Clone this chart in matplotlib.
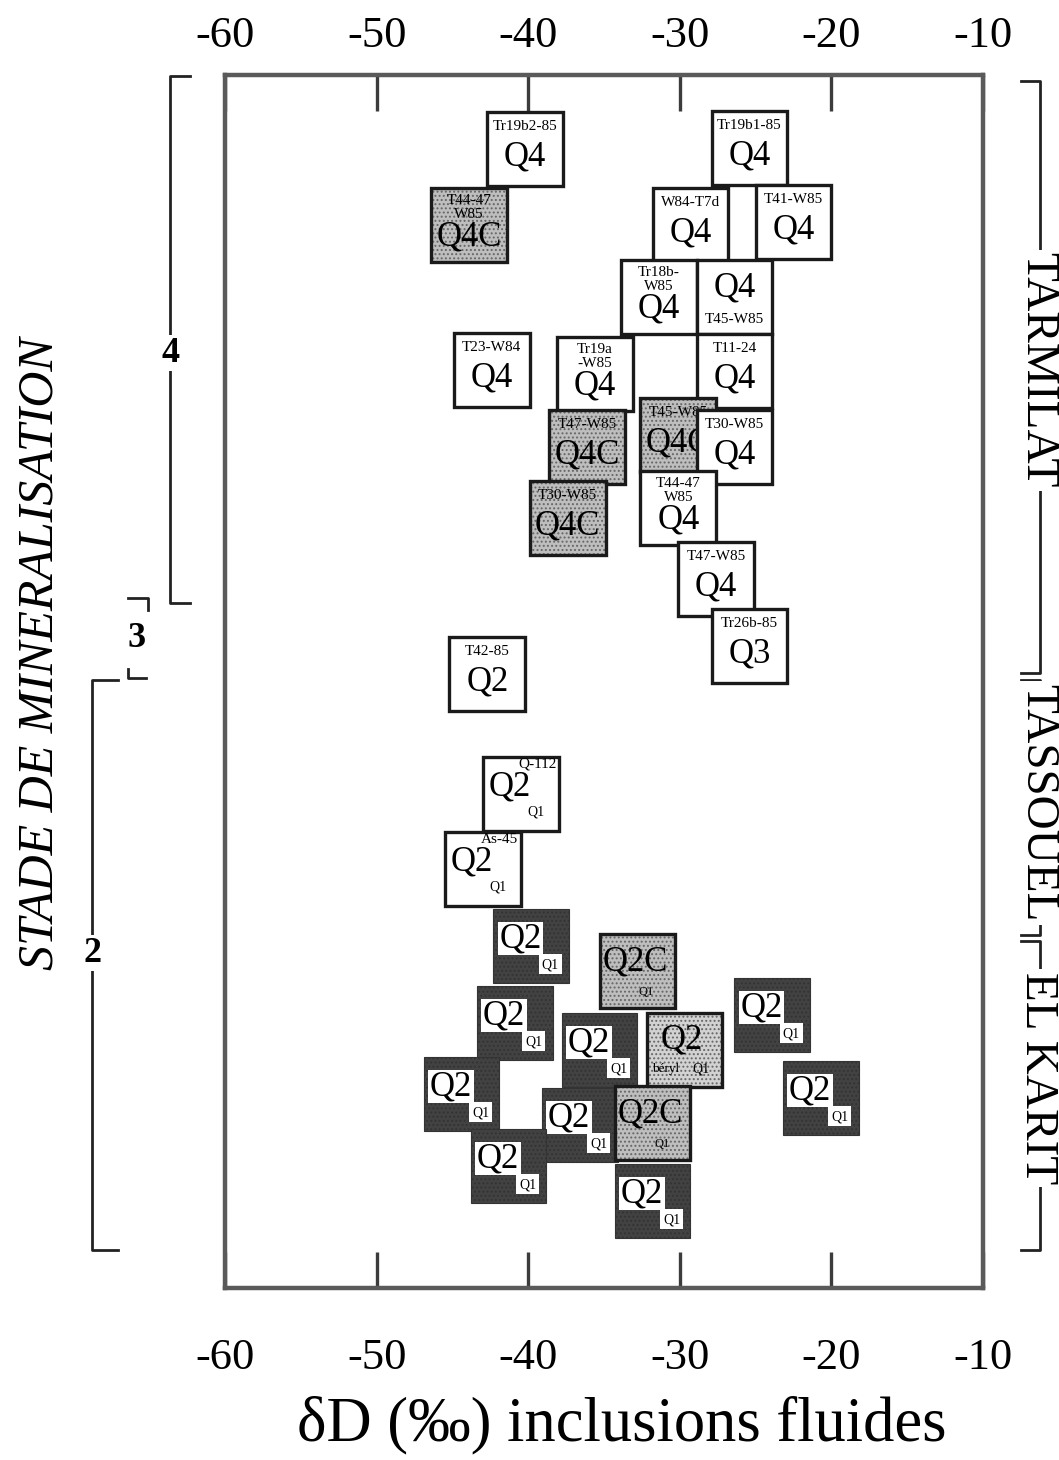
import matplotlib
matplotlib.use("Agg")
import matplotlib.pyplot as plt
from matplotlib.patches import Rectangle

plt.rcParams['font.family'] = ['Liberation Serif', 'DejaVu Serif']
plt.rcParams['axes.unicode_minus'] = False
plt.rcParams['hatch.linewidth'] = 0.9

# fluid inclusion analyses: sample, quartz generation, dD (per mil), position in the stage column
sample_id = ['Tr19b2-85', 'Tr19b1-85', 'T44-47\nW85', 'W84-T7d', 'T41-W85',
             'Tr18b-\nW85', 'T45-W85', 'T23-W84', 'Tr19a\n-W85', 'T11-24',
             'T47-W85', 'T45-W85', 'T30-W85', 'T30-W85', 'T44-47\nW85',
             'T47-W85', 'Tr26b-85', 'T42-85', 'Q-112', 'As-45',
             '', '', '', '', '', 'béryl', '', '', '', '', '', '']
quartz = ['Q4', 'Q4', 'Q4C', 'Q4', 'Q4',
          'Q4', 'Q4', 'Q4', 'Q4', 'Q4',
          'Q4C', 'Q4C', 'Q4', 'Q4C', 'Q4',
          'Q4', 'Q3', 'Q2', 'Q2', 'Q2',
          'Q2', 'Q2C', 'Q2', 'Q2', 'Q2', 'Q2', 'Q2', 'Q2', 'Q2', 'Q2C', 'Q2', 'Q2']
dD = [-40.2, -25.4, -43.9, -29.3, -22.5,
      -31.4, -26.4, -42.4, -35.6, -26.4,
      -36.1, -30.1, -26.4, -37.4, -30.1,
      -27.6, -25.4, -42.7, -40.5, -43.0,
      -39.8, -32.8, -23.9, -40.9, -35.3, -29.7, -44.4, -20.7, -36.6, -31.8, -41.3, -31.8]
level = [113.9, 114.0, 106.3, 106.35, 106.6,
         99.1, 99.1, 91.8, 91.4, 91.7,
         84.1, 85.3, 84.1, 77.0, 78.0,
         70.9, 64.2, 61.4, 49.4, 41.9,
         34.2, 31.7, 27.3, 26.5, 23.8, 23.8, 19.4, 19.0, 16.3, 16.5, 12.2, 8.7]
style = ['open', 'open', 'stip', 'open', 'open',
         'open', 'below', 'open', 'open', 'open',
         'stip', 'stip', 'open', 'stip', 'open',
         'open', 'open', 'open', 'q2', 'q2',
         'dark', 'q2c', 'dark', 'dark', 'dark', 'beryl', 'dark', 'dark', 'dark', 'q2c', 'dark', 'dark']

xticks = [-60, -50, -40, -30, -20, -10]

# mineralisation stages (left) and deposits (right): column range and label position
stages = ['4', '3', '2']
stage_range = [(121.2, 68.5), (69.0, 61.0), (60.8, 3.8)]
stage_label_at = [93.5, 65.0, 33.5]
deposits = ['TARMILAT', 'TASSOUEL', 'EL KARIT']
deposit_range = [(120.7, 61.5), (60.8, 35.3), (34.7, 3.8)]
deposit_label_at = [91.8, 48.5, 21.0]

BW, BH = 5.0, 7.4
DARK = '#424242'
STIP = '#bebebe'

fig = plt.figure(figsize=(10.59, 14.6), dpi=100)
ax = fig.add_axes([0.2125, 0.1178, 0.7158, 0.8308])
ax.set_xlim(-60, -10)
ax.set_ylim(0, 121.3)
ax.set_yticks([])
ax.set_xticks(xticks)
ax.set_xticklabels([str(t) for t in xticks])
ax.tick_params(axis='x', direction='in', length=26, width=2.4, color='#3c3c3c',
               labelsize=32, pad=36)
for s in ax.spines.values():
    s.set_linewidth(3.2)
    s.set_color('#5a5a5a')

top = ax.secondary_xaxis('top')
top.set_xticks(xticks)
top.set_xticklabels([str(t) for t in xticks])
top.tick_params(axis='x', direction='in', length=26, width=2.4, color='#3c3c3c',
                labelsize=32, pad=14)
top.spines['top'].set_visible(False)


def draw_box(i, x, y, kind, ident, main):
    z = 10 + 2 * i
    x0, y0 = x - BW / 2, y - BH / 2
    ytop = y + BH / 2

    def at(fx, fy):
        return x0 + fx * BW, ytop - fy * BH

    tz = dict(zorder=z + 1, ha='center', va='center')
    big = dict(fontsize=25, **tz)
    if kind == 'dark':
        ax.add_patch(Rectangle((x0, y0), BW, BH, facecolor=DARK, edgecolor='#333333',
                               hatch='....', lw=0.8, zorder=z))
        ax.add_patch(Rectangle(at(0.06, 0.62), 0.6 * BW, 0.44 * BH, facecolor='white',
                               lw=0, zorder=z + 0.5))
        ax.add_patch(Rectangle(at(0.6, 0.88), 0.3 * BW, 0.27 * BH, facecolor='white',
                               lw=0, zorder=z + 0.5))
        ax.text(*at(0.36, 0.41), main, **big)
        ax.text(*at(0.75, 0.75), 'Q1', fontsize=10, **tz)
        return

    if kind in ('stip', 'q2c', 'beryl'):
        fc = '#d2d2d2' if kind == 'beryl' else STIP
        ax.add_patch(Rectangle((x0, y0), BW, BH, facecolor=fc, edgecolor='#666666',
                               hatch='....', lw=0, zorder=z))
        ax.add_patch(Rectangle((x0, y0), BW, BH, fill=False, edgecolor='#1a1a1a',
                               lw=2.4, zorder=z + 0.5))
    else:
        ax.add_patch(Rectangle((x0, y0), BW, BH, facecolor='white', edgecolor='#1a1a1a',
                               lw=2.4, zorder=z))

    if kind in ('open', 'stip'):
        two = '\n' in ident
        ax.text(*at(0.5, 0.26 if two else 0.2), ident, fontsize=11, linespacing=1.05, **tz)
        ax.text(*at(0.5, 0.66 if two else 0.61), main, **big)
    elif kind == 'below':
        ax.text(*at(0.5, 0.38), main, **big)
        ax.text(*at(0.5, 0.8), ident, fontsize=11, **tz)
    elif kind == 'q2':
        ax.text(*at(0.36, 0.4), main, **big)
        ax.text(*at(0.72, 0.1), ident, fontsize=11, **tz)
        ax.text(*at(0.7, 0.74), 'Q1', fontsize=10, **tz)
    elif kind == 'q2c':
        ax.text(*at(0.47, 0.38), main, **big)
        ax.text(*at(0.62, 0.78), 'Q1', fontsize=9, **tz)
    elif kind == 'beryl':
        ax.text(*at(0.47, 0.36), main, **big)
        ax.text(*at(0.25, 0.76), ident, fontsize=9.5, **tz)
        ax.text(*at(0.72, 0.76), 'Q1', fontsize=10, **tz)


for i in range(len(dD)):
    draw_box(i, dD[i], level[i], style[i], sample_id[i], quartz[i])

# stage brackets on the left, deposit brackets on the right
yt = ax.get_yaxis_transform()
bracket = dict(color='#222', lw=2, transform=yt, clip_on=False)
label_box = dict(facecolor='white', edgecolor='none', pad=1)

# stage 4 and stage 2 as open brackets
for idx, sx, st in [(0, -0.0726, 0.027), (2, -0.1755, 0.034)]:
    y1, y2 = stage_range[idx]
    ax.plot([sx + st, sx, sx, sx + st], [y1, y1, y2, y2], **bracket)
    ax.text(sx, stage_label_at[idx], stages[idx], transform=yt, fontsize=26,
            fontweight='bold', ha='center', va='center', bbox=label_box)

# stage 3 is a short crooked bracket
y1, y2 = stage_range[1]
ax.plot([-0.128, -0.101, -0.101], [y1, y1, y1 - 1.2], **bracket)
ax.plot([-0.128, -0.128, -0.104], [y2 + 0.9, y2, y2], **bracket)
ax.text(-0.117, stage_label_at[1], stages[1], transform=yt, fontsize=26,
        fontweight='bold', ha='center', va='center')

dep_x = 1.0752
for lab, (y1, y2), yl in zip(deposits, deposit_range, deposit_label_at):
    ax.plot([dep_x - 0.025, dep_x, dep_x, dep_x - 0.025], [y1, y1, y2, y2], **bracket)
    ax.text(dep_x - 0.004, yl, lab, transform=yt, fontsize=34, rotation=-90, ha='center',
            va='center', bbox=dict(facecolor='white', edgecolor='none', pad=2))

ax.text(-0.244, 0.523, 'STADE DE MINERALISATION', transform=ax.transAxes, fontsize=36,
        fontstyle='italic', rotation=90, ha='center', va='center')
fig.text(0.587, 0.024, 'δD (‰) inclusions fluides', fontsize=45, ha='center', va='center')

fig.savefig('out.png', dpi=100)
